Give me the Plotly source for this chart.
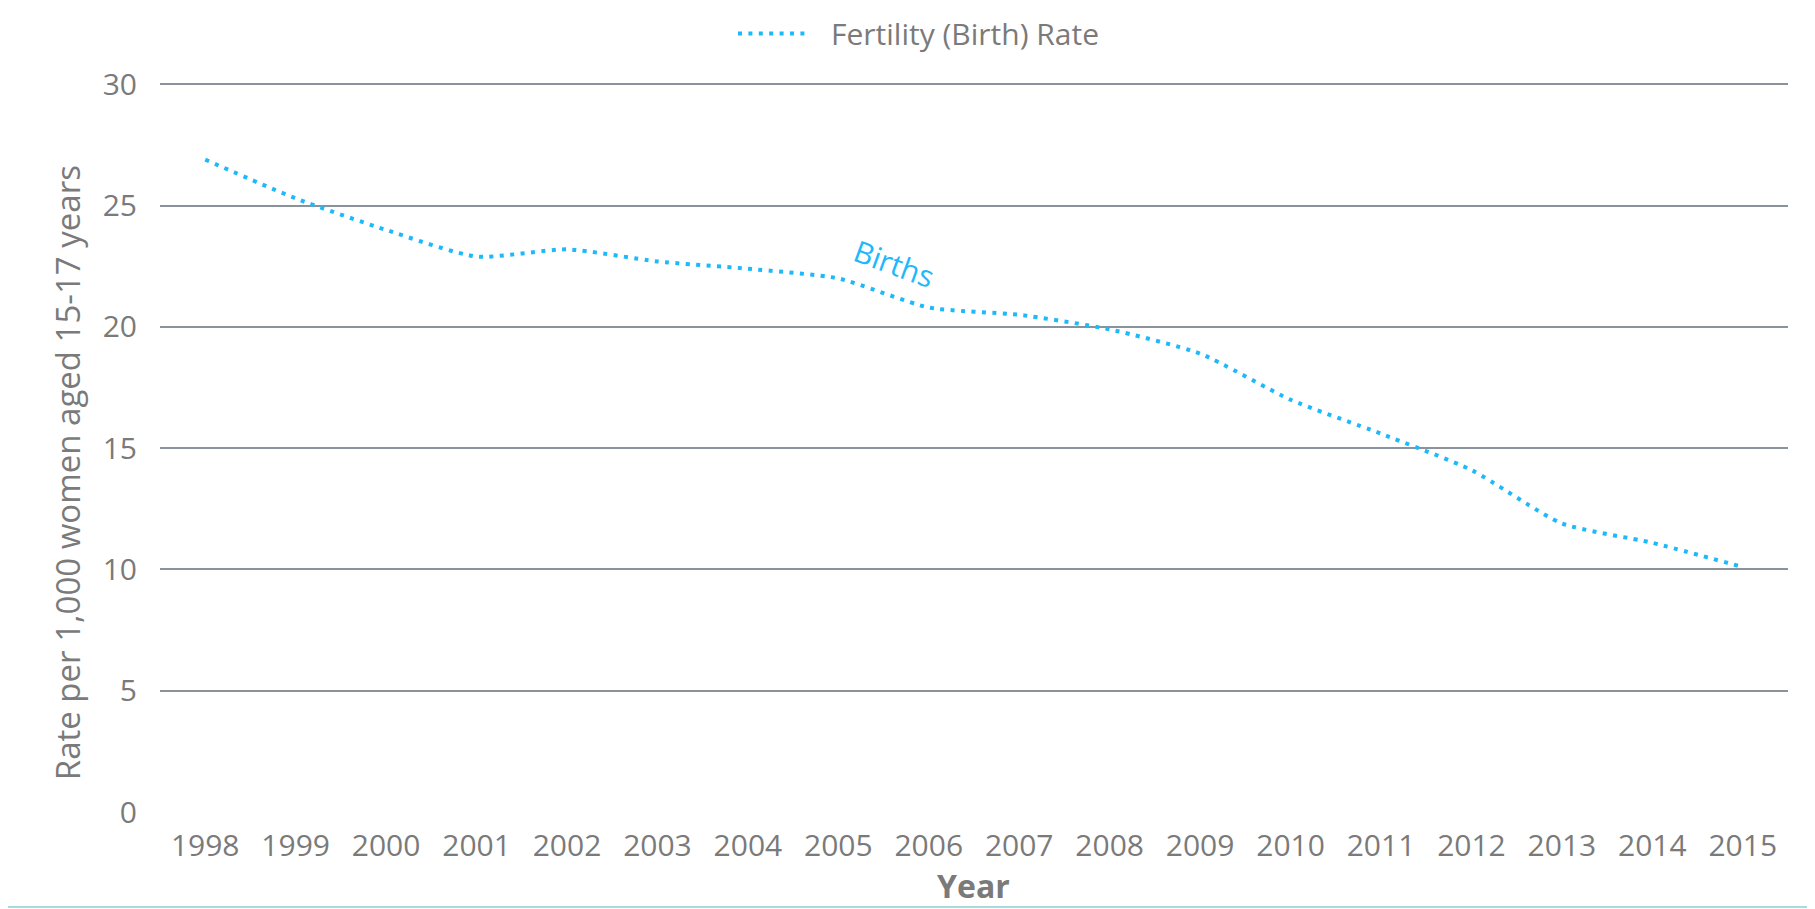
import plotly.graph_objects as go

years = ["1998", "1999", "2000", "2001", "2002", "2003", "2004", "2005", "2006",
         "2007", "2008", "2009", "2010", "2011", "2012", "2013", "2014", "2015"]
rates = [26.9, 25.3, 24.0, 22.9, 23.2, 22.7, 22.4, 22.0, 20.8,
         20.5, 19.9, 18.9, 17.0, 15.6, 14.1, 11.9, 11.1, 10.1]
y_ticks = [0, 5, 10, 15, 20, 25, 30]
series_name = "Fertility (Birth) Rate"

BLUE = "#1DB9FB"
GRAY = "#7a7a7a"
FONT = "Open Sans"
DASH = "4px,6.4px"

# the page body adds an 8px offset; figure is sized to fit the window
OFF = 8
W, H = 1815 - OFF, 909 - OFF
# plot area in window pixels: x 160..1788, y 81.57..812
PL, PR = 160.0, 1788.0
PT, PB = 81.57, 812.0
PW, PH = PR - PL, PB - PT


def px(pixel):
    return (pixel - PL) / PW


def py(pixel):
    return (PB - pixel) / PH


fig = go.Figure()
fig.add_trace(go.Scatter(
    x=years, y=rates, mode="lines", name=series_name, showlegend=False,
    line=dict(color=BLUE, width=4, dash=DASH, shape="spline", smoothing=0.6),
))

fig.update_layout(
    width=W, height=H,
    margin=dict(l=PL - OFF, r=W - (PR - OFF), t=PT - OFF, b=H - (PB - OFF), autoexpand=False),
    paper_bgcolor="white", plot_bgcolor="white",
    font=dict(family=FONT, color=GRAY, size=30),
    showlegend=False,
    xaxis=dict(type="category", range=[-0.5, 17.5], showgrid=False, showline=False,
               zeroline=False, ticks="", automargin=False, ticklabelstandoff=13,
               tickfont=dict(size=30, color=GRAY)),
    yaxis=dict(range=[0, 30.1], tickvals=y_ticks, showgrid=True, gridcolor="#8a939b",
               gridwidth=2, zeroline=True, zerolinecolor="white", zerolinewidth=3,
               showline=False, ticks="", ticklabelstandoff=22, automargin=False,
               tickfont=dict(size=30, color=GRAY)),
)

# legend (drawn manually to match the long dotted sample)
fig.add_shape(type="line", xref="paper", yref="paper",
              x0=px(738), x1=px(808), y0=py(33), y1=py(33),
              line=dict(color=BLUE, width=4, dash=DASH))
fig.add_annotation(text=series_name, xref="paper", yref="paper",
                   x=px(829), y=py(33), xanchor="left", yanchor="middle",
                   showarrow=False, font=dict(size=30, color=GRAY))

fig.add_annotation(
    text="Rate per 1,000 women aged 15-17 years", textangle=-90,
    xref="paper", yref="paper", x=px(67), y=py(473),
    xanchor="center", yanchor="middle",
    showarrow=False, font=dict(size=33, color=GRAY),
)
fig.add_annotation(
    text="<b>Year</b>", xref="paper", yref="paper", x=px(973), y=py(886),
    xanchor="center", yanchor="middle", showarrow=False, font=dict(size=32, color=GRAY),
)
fig.add_annotation(
    text="Births", textangle=20, xref="x", yref="y", x=7.62, y=22.63,
    showarrow=False, font=dict(size=30, color=BLUE),
)
fig.add_shape(type="line", xref="paper", yref="paper", x0=-0.1, x1=1.02,
              y0=py(907), y1=py(907), line=dict(color="#a8dbe0", width=2))

fig.write_html("out.html")
